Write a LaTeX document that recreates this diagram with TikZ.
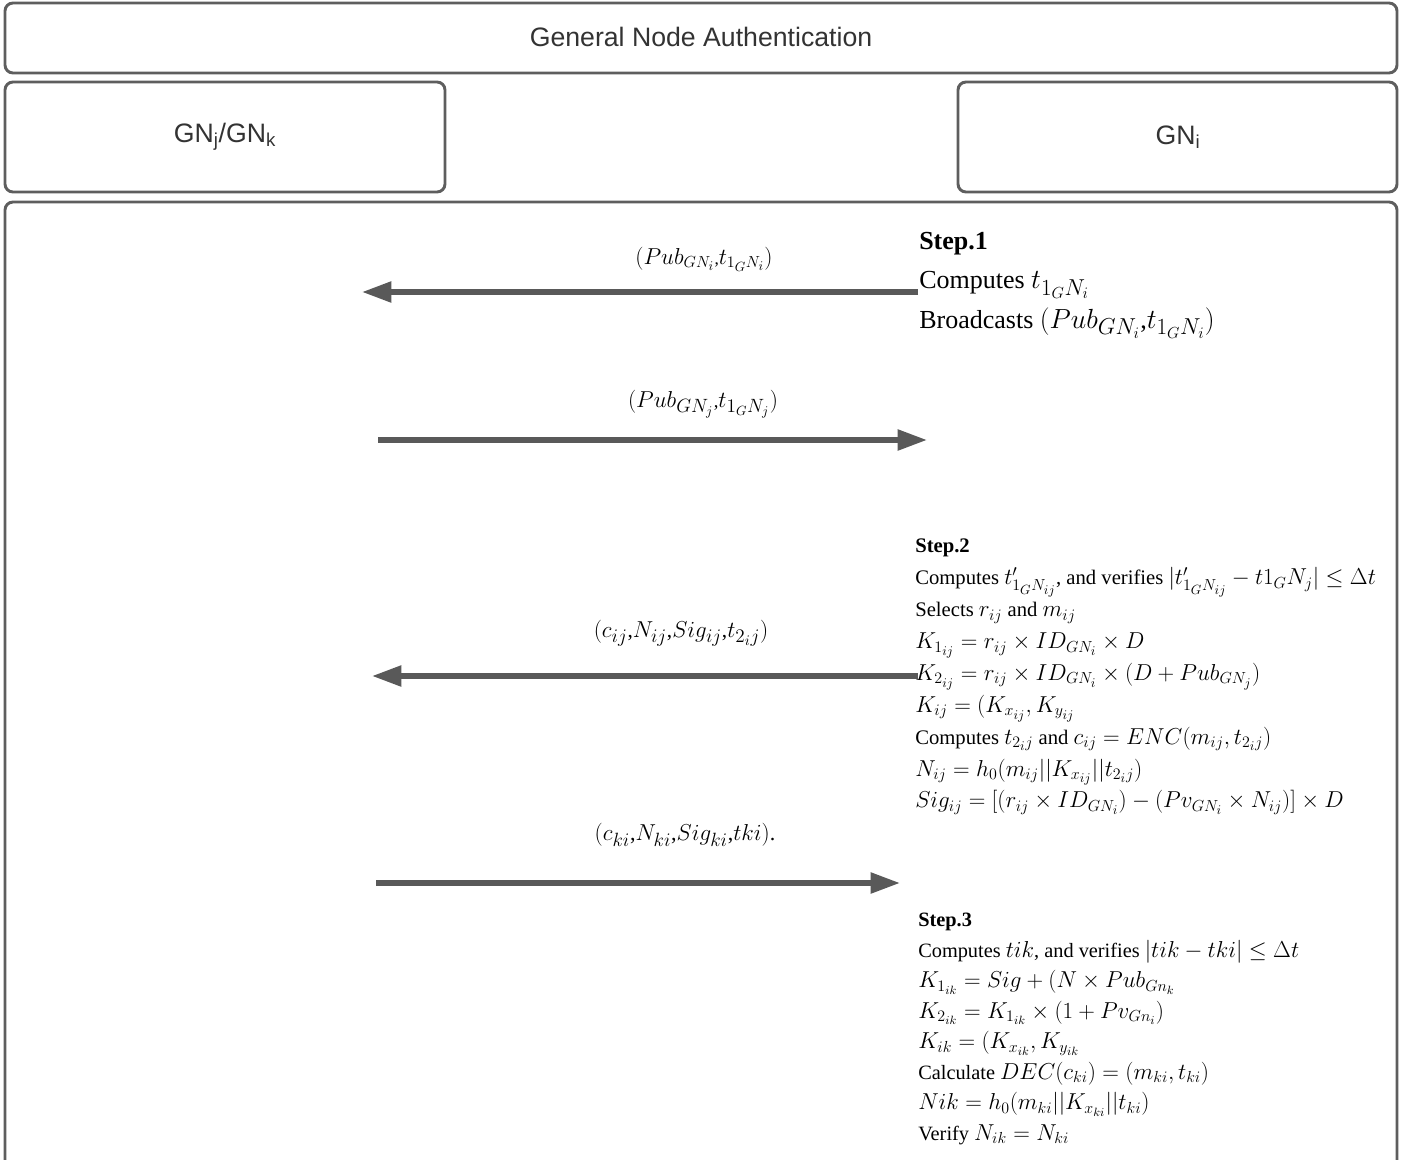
\documentclass[tikz,border=0pt]{standalone}
\usepackage{amsmath,amssymb}
\usepackage{fontspec}
\setmainfont{Liberation Serif}
\newfontfamily\headfont{Liberation Sans}
\usetikzlibrary{arrows.meta,positioning}
\definecolor{boxgray}{HTML}{5E5E5E}
\definecolor{arrowgray}{HTML}{595959}
\definecolor{headink}{HTML}{333333}
% math a little larger than the text around it
\DeclareMathSizes{19.5}{21.5}{16}{12.5}
\DeclareMathSizes{15.5}{16.6}{12.6}{10}
\DeclareMathSizes{15.25}{15.9}{12.1}{9.5}
\DeclareMathSizes{13}{17}{13}{10}
\DeclareMathSizes{14}{17.5}{13.3}{10}
\DeclareMathSizes{16}{18.5}{14}{11}
\DeclareMathSizes{16.5}{17.8}{13.6}{10.5}

\begin{document}
\begin{tikzpicture}[x=0.75pt,y=-0.75pt,
    box/.style={draw=boxgray, line width=2.2pt, rounded corners=6pt},
    head/.style={text=headink, font=\headfont\fontsize{20}{24}\selectfont},
    msg/.style={draw=arrowgray, line width=4pt, -{Triangle[length=22pt,width=15pt]}},
    steptext/.style={anchor=north west, inner sep=0, align=left}]
    \useasboundingbox (0,0) rectangle (1414,1160);

    % frames
    \draw[box] (5,3) rectangle (1397,73);
    \draw[box] (5,82) rectangle (445,192);
    \draw[box] (958,82) rectangle (1397,192);
    \draw[box] (5,202) rectangle (1397,1190);
    \node[head] (title) at (701,37) {General Node Authentication};
    \node[head] (gnj) at (225,137) {GN\textsubscript{j}/GN\textsubscript{k}};
    \node[head] (gni) at (1178,137) {GN\textsubscript{i}};

    % steps on the GN_i side
    \node[steptext, font=\fontsize{19.5}{29.6}\selectfont] (step1) at (919,232) {
      \textbf{Step.1}\\
      Computes $t_{1_GN_i}$\\
      Broadcasts $(Pub_{GN_i}$,$t_{1_GN_i})$};
    \node[steptext, font=\fontsize{15.5}{23.9}\selectfont] (step2) at (915,539) {
      \textbf{Step.2}\\
      Computes $t'_{1_GN_{ij}}$, and verifies $|t'_{1_GN_{ij}}-t1_GN_j|\le\Delta t$\\
      Selects $r_{ij}$ and $m_{ij}$\\
      $K_{1_{ij}}=r_{ij}\times ID_{GN_i}\times D$\\
      $K_{2_{ij}}=r_{ij}\times ID_{GN_i}\times (D+Pub_{GN_j})$\\
      $K_{ij}=(K_{x_{ij}},K_{y_{ij}}$\\
      Computes $t_{2_ij}$ and $c_{ij}=ENC(m_{ij},t_{2_ij})$\\
      $N_{ij}=h_0(m_{ij}||K_{x_{ij}}||t_{2_ij})$\\
      $Sig_{ij}=[(r_{ij}\times ID_{GN_i})-(Pv_{GN_i}\times N_{ij})]\times D$};
    \node[steptext, font=\fontsize{15.25}{22.9}\selectfont] (step3) at (918,913) {
      \textbf{Step.3}\\
      Computes $tik$, and verifies $|tik-tki|\le\Delta t$\\
      $K_{1_{ik}}=Sig+(N\times Pub_{Gn_k}$\\
      $K_{2_{ik}}=K_{1_{ik}}\times(1+Pv_{Gn_i})$\\
      $K_{ik}=(K_{x_{ik}},K_{y_{ik}}$\\
      Calculate $DEC(c_{ki})=(m_{ki},t_{ki})$\\
      $Nik=h_0(m_{ki}||K_{x_{ki}}||t_{ki})$\\
      Verify $N_{ik}=N_{ki}$};

    % messages
    \coordinate (m1s) at (918,292);
    \coordinate (m1e) at (362,292);
    \coordinate (m2s) at (378,440);
    \coordinate (m2e) at (927,440);
    \coordinate (m3s) at (918,676);
    \coordinate (m3e) at (372,676);
    \coordinate (m4s) at (376,883);
    \coordinate (m4e) at (900,883);
    \draw[msg] (m1s) -- (m1e);
    \draw[msg] (m2s) -- (m2e);
    \draw[msg] (m3s) -- (m3e);
    \draw[msg] (m4s) -- (m4e);
    \node[font=\fontsize{13}{15}\selectfont] (msg1) at (704,259) {$(Pub_{GN_i}$,$t_{1_GN_i})$};
    \node[font=\fontsize{14}{17}\selectfont] (msg2) at (703,404) {$(Pub_{GN_j}$,$t_{1_GN_j})$};
    \node[font=\fontsize{16}{18}\selectfont] (msg3) at (681,633) {$(c_{ij}$,$N_{ij}$,$Sig_{ij}$,$t_{2_ij})$};
    \node[font=\fontsize{16.5}{18}\selectfont] (msg4) at (685,835) {$(c_{ki}$,$N_{ki}$,$Sig_{ki}$,$tki)$.};
\end{tikzpicture}
\end{document}
